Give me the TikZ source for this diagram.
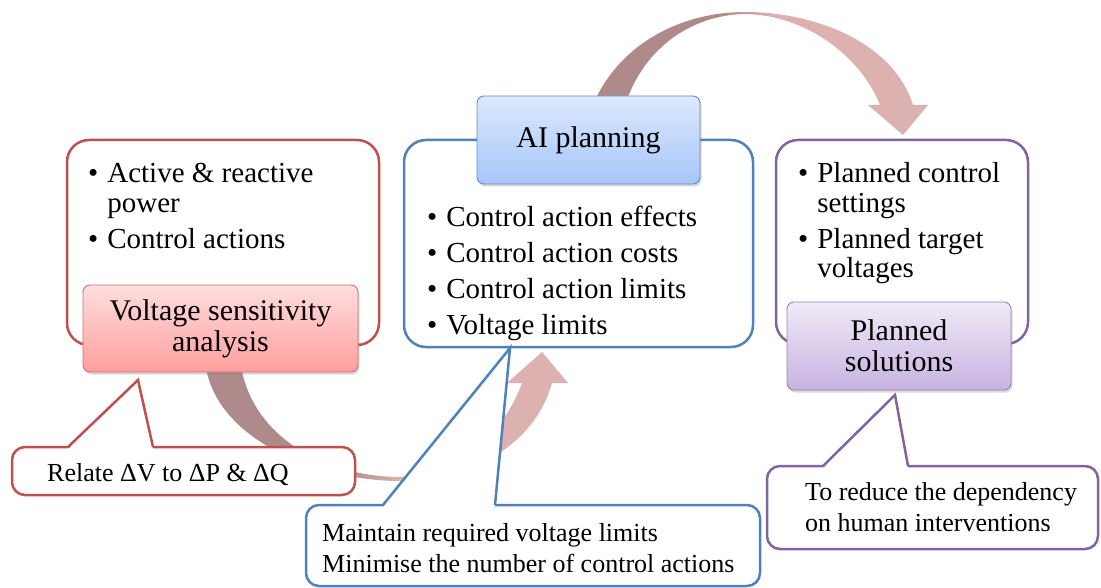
\documentclass[tikz,border=0pt]{standalone}
\usepackage{fontspec}
\setmainfont{Liberation Serif}
\usetikzlibrary{calc,shadows}

\definecolor{redLine}{HTML}{C0504D}
\definecolor{redTop}{HTML}{FFDEDE}
\definecolor{redBot}{HTML}{FF9E9E}
\definecolor{blueLine}{HTML}{4F81BD}
\definecolor{blueTop}{HTML}{DDE8FD}
\definecolor{blueBot}{HTML}{A6C6F8}
\definecolor{purpLine}{HTML}{8064A2}
\definecolor{purpTop}{HTML}{F0EAF8}
\definecolor{purpBot}{HTML}{C7B3E1}
\definecolor{arcDark}{HTML}{AE8B8A}
\definecolor{arcLight}{HTML}{DDB1B0}

% dark on the left half, light on the right half
\pgfdeclarehorizontalshading{arcShade}{100bp}{color(0bp)=(arcDark); color(44bp)=(arcDark); color(52bp)=(arcLight); color(100bp)=(arcLight)}

\newcommand{\bodyFont}{\fontsize{29}{29.5}\selectfont}
\newcommand{\headFont}{\fontsize{30}{31}\selectfont}
\newcommand{\bubbleFont}{\fontsize{26}{31}\selectfont}
\newenvironment{bullets}{\begin{tabular}[t]{@{}l@{\hspace{9pt}}l@{}}}{\end{tabular}}

\begin{document}
\begin{tikzpicture}
		[
			x=1pt, y=-1pt,
			panel/.style={draw, line width=2.5pt, fill=white, rounded corners=22pt, inner sep=0, outer sep=0},
			heading/.style={
				draw,
				line width=0.9pt,
				rounded corners=7pt,
				align=center,
				font=\headFont,
				inner sep=0,
				outer sep=0,
				drop shadow={shadow xshift=1.5pt, shadow yshift=-2.5pt, opacity=0.3},
			},
			items/.style={anchor=base west, inner sep=0, font=\bodyFont},
			bubble/.style={draw, line width=2.5pt, fill=white, rounded corners=13pt, inner sep=0, outer sep=0, anchor=north west},
			bubbleText/.style={anchor=base west, inner sep=0, font=\bubbleFont},
			tail/.style={line width=2.5pt, line join=miter},
		]
		\useasboundingbox (0,0) rectangle (1101,588);

		% curved arrows behind everything
		\shade[shading=arcShade]
		(590,112) .. controls (615,45) and (680,12) .. (745,12)
		.. controls (815,12) and (893,42) .. (913,105)
		-- (928,105) -- (903,135) -- (868,105) -- (880,105)
		.. controls (860,55) and (805,15) .. (745,14)
		.. controls (690,15) and (640,50) .. (623,112) -- cycle;
		\shade[shading=arcShade]
		(205,360) .. controls (212,440) and (320,481) .. (400,481)
		.. controls (470,481) and (535,445) .. (552,383)
		-- (568,383) -- (542,352) -- (507,383) -- (522,383)
		.. controls (505,430) and (460,477) .. (400,477)
		.. controls (330,477) and (250,440) .. (240,360) -- cycle;

		\node[panel, draw=redLine, minimum width=312pt, minimum height=205pt] (vsaPanel) at (223,242.5) {};
		\node[panel, draw=blueLine, minimum width=349pt, minimum height=207pt] (aipPanel) at (578.5,243.5) {};
		\node[panel, draw=purpLine, minimum width=252pt, minimum height=204pt] (solPanel) at (902,242) {};

		\node[heading, draw=redLine!80, top color=redTop, bottom color=redBot,
			minimum width=275pt, minimum height=87pt]
		(vsa) at (220.5,328.5) {Voltage sensitivity\\analysis};
		\node[heading, draw=blueLine!90, top color=blueTop, bottom color=blueBot,
			minimum width=223pt, minimum height=88pt]
		(aip) at (588.5,140) {AI planning};
		\node[heading, draw=purpLine!80, top color=purpTop, bottom color=purpBot,
			minimum width=224pt, minimum height=88pt]
		(sol) at (899,346) {Planned\\solutions};

		\node[items] (vsaList) at (88,183) {\begin{bullets}
			\textbullet & Active \& reactive\\
			& power\\[6.5pt]
			\textbullet & Control actions
		\end{bullets}};
		\node[items] (aipList) at (427,227) {\begin{bullets}
			\textbullet & Control action effects\\[6.5pt]
			\textbullet & Control action costs\\[6.5pt]
			\textbullet & Control action limits\\[6.5pt]
			\textbullet & Voltage limits
		\end{bullets}};
		\node[items] (solList) at (798,183) {\begin{bullets}
			\textbullet & Planned control\\
			& settings\\[6.5pt]
			\textbullet & Planned target\\
			& voltages
		\end{bullets}};

		% callouts with their pointers
		\coordinate (vsaTip) at (138,380);
		\coordinate (aipTip) at (510,348);
		\coordinate (solTip) at (895,395);

		\node[bubble, draw=redLine, minimum width=343pt, minimum height=48pt] (relBox) at (12,447) {};
		\fill[white] ($(relBox.north west)+(56,2)$) -- (vsaTip) -- ($(relBox.north west)+(141,2)$) -- cycle;
		\draw[tail, redLine] ($(relBox.north west)+(56,0)$) -- (vsaTip) -- ($(relBox.north west)+(141,0)$);
		\node[bubbleText] (relText) at (47,481) {Relate ΔV to ΔP \& ΔQ};

		\node[bubble, draw=blueLine, minimum width=454pt, minimum height=81pt] (aimBox) at (306,505) {};
		\fill[white] ($(aimBox.north west)+(77,2)$) -- (aipTip) -- ($(aimBox.north west)+(189,2)$) -- cycle;
		\draw[tail, blueLine] ($(aimBox.north west)+(77,0)$) -- (aipTip) -- ($(aimBox.north west)+(189,0)$);
		\node[bubbleText] (aimText) at (322,541) {\begin{tabular}[t]{@{}l@{}}
			Maintain required voltage limits\\
			Minimise the number of control actions
		\end{tabular}};

		\node[bubble, draw=purpLine, minimum width=331pt, minimum height=83pt] (humBox) at (767,466) {};
		\fill[white] ($(humBox.north west)+(56,2)$) -- (solTip) -- ($(humBox.north west)+(141,2)$) -- cycle;
		\draw[tail, purpLine] ($(humBox.north west)+(56,0)$) -- (solTip) -- ($(humBox.north west)+(141,0)$);
		\node[bubbleText] (humText) at (805,500) {\begin{tabular}[t]{@{}l@{}}
			To reduce the dependency\\
			on human interventions
		\end{tabular}};
	\end{tikzpicture}
\end{document}
